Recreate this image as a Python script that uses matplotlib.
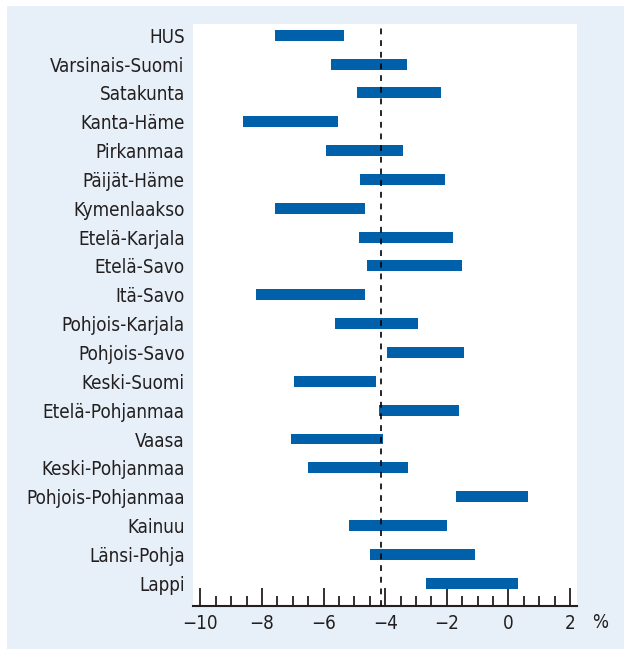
import matplotlib
matplotlib.use("Agg")
import matplotlib.pyplot as plt
from matplotlib.patches import Rectangle
from matplotlib.ticker import MultipleLocator

regions = ["HUS", "Varsinais-Suomi", "Satakunta", "Kanta-Häme", "Pirkanmaa",
           "Päijät-Häme", "Kymenlaakso", "Etelä-Karjala", "Etelä-Savo", "Itä-Savo",
           "Pohjois-Karjala", "Pohjois-Savo", "Keski-Suomi", "Etelä-Pohjanmaa",
           "Vaasa", "Keski-Pohjanmaa", "Pohjois-Pohjanmaa", "Kainuu",
           "Länsi-Pohja", "Lappi"]
low = [-7.58, -5.76, -4.91, -8.61, -5.92, -4.82, -7.58, -4.85, -4.59, -8.19,
       -5.63, -3.94, -6.96, -4.20, -7.06, -6.51, -1.70, -5.18, -4.49, -2.68]
high = [-5.34, -3.29, -2.19, -5.53, -3.43, -2.06, -4.66, -1.80, -1.51, -4.66,
        -2.94, -1.44, -4.30, -1.60, -4.07, -3.26, 0.64, -1.99, -1.08, 0.31]
reference = -4.13
xticks = [-10, -8, -6, -4, -2, 0, 2]
xticklabels = ["\u221210", "\u22128", "\u22126", "\u22124", "\u22122", "0", "2"]

W, H = 624, 649
bar_color = "#0061AA"
panel_color = "#E7F0F8"
text_color = "#231F20"
fam = "DejaVu Sans"

fig = plt.figure(figsize=(W / 100, H / 100), dpi=100)
fig.patch.set_facecolor("white")
fig.patches.append(Rectangle((7 / W, 0), (W - 7) / W, (H - 6) / H,
                             transform=fig.transFigure, facecolor=panel_color,
                             edgecolor="none", zorder=-10))

ax = fig.add_axes([193 / W, 1 - 606 / H, (577 - 193) / W, (606 - 24) / H])
ax.set_zorder(5)
ax.set_facecolor("white")

ypos = list(range(len(regions)))
widths = [h - l for l, h in zip(low, high)]
ax.barh(ypos, widths, left=low, height=0.38, color=bar_color, zorder=2)
ax.axvline(reference, color="black", lw=1.2, dashes=(3.5, 3.5), zorder=3)

ax.set_xlim(-10.237, 2.226)
ax.set_ylim(19.79, -0.39)

ax.set_yticks(ypos)
ax.set_yticklabels(regions, fontsize=13.5, color=text_color,
                   fontfamily=fam, fontstretch="condensed")
ax.tick_params(axis="y", length=0, pad=6)

ax.set_xticks(xticks)
ax.set_xticklabels(xticklabels, fontsize=13.5, color=text_color,
                   fontfamily=fam, fontstretch="condensed")
ax.xaxis.set_minor_locator(MultipleLocator(0.5))
ax.tick_params(axis="x", which="major", direction="in", length=13, width=1.3,
               color=text_color, pad=6)
ax.tick_params(axis="x", which="minor", direction="in", length=7, width=1.3,
               color=text_color)

for s in ["left", "right", "top"]:
    ax.spines[s].set_visible(False)
ax.spines["bottom"].set_color(text_color)
ax.spines["bottom"].set_linewidth(1.5)

fig.text(600 / W, 1 - 623 / H, "%", fontsize=13.5, color=text_color,
         fontfamily=fam, fontstretch="condensed", ha="center", va="center")

fig.savefig("out.png", dpi=100, facecolor=fig.get_facecolor())
